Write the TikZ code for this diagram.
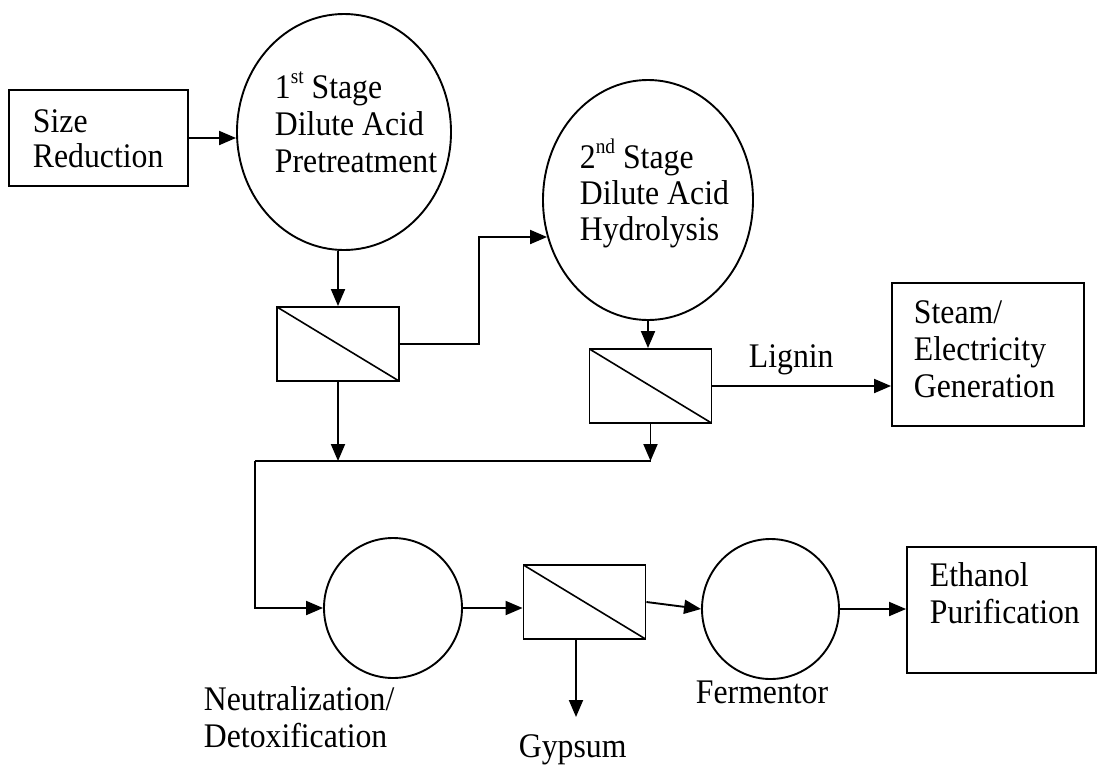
\documentclass[tikz,border=0pt]{standalone}
\usepackage{fontspec}
\setmainfont{Liberation Serif}[FakeStretch=0.92]
\usetikzlibrary{shapes.geometric,arrows.meta}
\newcommand\ordsup[1]{\raisebox{0.42em}{\fontsize{21}{21}\selectfont #1}}

\begin{document}
\begin{tikzpicture}[x=1pt,y=-1pt,line width=1.9pt,
	every node/.style={font=\fontsize{34.5}{37}\selectfont},
	unit/.style={draw,rectangle,inner sep=0},
	tank/.style={draw,ellipse,inner sep=0},
	sep/.style={draw,rectangle,inner sep=0,minimum width=122pt,minimum height=74pt,
		path picture={\draw[line width=1.6pt] (path picture bounding box.north west) -- (path picture bounding box.south east);}},
	txt/.style={anchor=base west,inner sep=0,align=left},
	flow/.style={-{Triangle[length=17pt,width=14pt]}}]
\useasboundingbox (0,0) rectangle (1098,764);
% process units
\node[unit,minimum width=179pt,minimum height=96pt] (size) at (98.5,138) {};
\node[tank,minimum width=214pt,minimum height=236pt] (pre) at (344,132) {};
\node[sep] (filtA) at (338,344) {};
\node[tank,minimum width=210pt,minimum height=240pt] (hyd) at (648,200) {};
\node[sep] (filtB) at (650.5,386) {};
\node[unit,minimum width=192pt,minimum height=143pt] (steam) at (988,354.5) {};
\node[tank,minimum width=138pt,minimum height=140pt] (neu) at (393,608) {};
\node[sep] (filtC) at (584.5,602) {};
\node[tank,minimum width=137pt,minimum height=140pt] (ferm) at (770.5,609) {};
\node[unit,minimum width=189pt,minimum height=126pt] (eth) at (1001.5,610) {};
% labels (base = last line)
\node[txt,font=\fontsize{34.5}{35}\selectfont] (sizeTxt) at (32,167) {Size\\Reduction};
\node[txt] (preTxt) at (274,172) {1\ordsup{st} Stage\\Dilute Acid\\Pretreatment};
\node[txt,font=\fontsize{34.5}{36}\selectfont] (hydTxt) at (579,240) {2\ordsup{nd} Stage\\Dilute Acid\\Hydrolysis};
\node[txt] (steamTxt) at (913,397) {Steam/\\Electricity\\Generation};
\node[txt] (ligTxt) at (748,367) {Lignin};
\node[txt] (ethTxt) at (929,623) {Ethanol\\Purification};
\node[txt] (neuTxt) at (203,747) {Neutralization/\\Detoxification};
\node[txt] (gypTxt) at (518,757) {Gypsum};
\node[txt] (fermTxt) at (695,703) {Fermentor};
% streams
\coordinate (bend) at (479,237);
\coordinate (joinL) at (255,461);
\coordinate (gyp) at (576,717);
\draw[flow] (size.east) -- (size.east -| pre.west);
\draw[flow] (pre.south -| filtA) -- (filtA.north);
\draw[flow] (filtA.east) -| (bend) -- (bend -| hyd.200);
\draw[flow] (hyd.south) -- (hyd.south |- filtB.north);
\draw[flow] (filtB.east) -- (filtB.east -| steam.west);
\draw[flow] (filtA.south) -- (filtA.south |- joinL);
\draw[flow] (filtB.south) -- (filtB.south |- joinL);
\draw (joinL) -- (filtB.south |- joinL);
\draw[flow] (joinL) |- (neu.west);
\draw[flow] (neu.east) -- (neu.east -| filtC.west);
\draw[flow] (gyp |- filtC.south) -- (gyp);
\draw[flow] (filtC.east) -- (ferm.west);
\draw[flow] (ferm.east) -- (ferm.east -| eth.west);
\end{tikzpicture}
\end{document}
